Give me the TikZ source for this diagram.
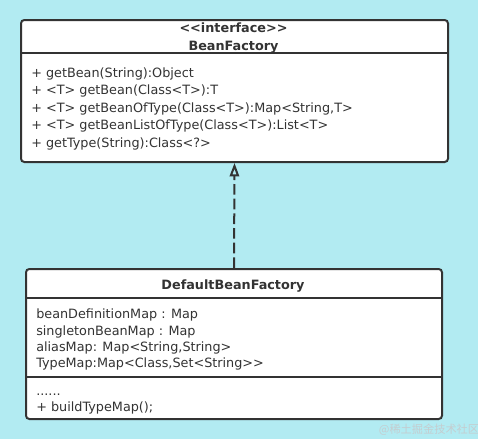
\documentclass[tikz,border=0pt]{standalone}
\usepackage{fontspec}
\setmainfont{DejaVu Sans}
\newfontfamily\cjkfont{Noto Sans CJK SC}
\usetikzlibrary{arrows.meta,positioning,calc}
\definecolor{SkyCyan}{HTML}{B2EBF2}
\definecolor{InkGray}{HTML}{333333}
\definecolor{MarkGray}{HTML}{C4CDD0}

\begin{document}
\begin{tikzpicture}[
  x=0.75pt, y=-0.75pt,
  classbox/.style={draw=InkGray, fill=white, line width=1.5pt, rounded corners=2.5pt,
    inner sep=0pt, anchor=north west},
  divider/.style={draw=InkGray, line width=1.5pt},
  headtext/.style={anchor=base, inner sep=0pt, text=InkGray,
    font=\fontsize{9.6}{12}\selectfont\bfseries},
  member/.style={anchor=base west, inner sep=0pt, text=InkGray,
    font=\fontsize{9.6}{12}\selectfont},
  wmark/.style={inner sep=0pt, text=MarkGray, font=\cjkfont\fontsize{8.4}{10}\selectfont},
  realize/.style={-{Triangle[open, length=10pt, width=7pt]}, line width=1.5pt,
    dash pattern=on 8pt off 3pt, draw=InkGray}
]
\fill[SkyCyan] (0,0) rectangle (478,439);
\useasboundingbox (0,0) rectangle (478,439);

% interface box
\node[classbox, minimum width=320.25pt, minimum height=106.5pt] (iface) at (20,19) {};
\draw[divider] (iface.west |- 0,53) -- (iface.east |- 0,53);
\node[headtext] (stereo) at (233.5,32) {<{}<interface>{}>};
\node[headtext] (ifname) at (233.5,50) {BeanFactory};
\node[member] (op1) at (31,77) {+ getBean(String):Object};
\node[member] (op2) at (31,94.5) {+ <T> getBean(Class<T>):T};
\node[member] (op3) at (31,112) {+ <T> getBeanOfType(Class<T>):Map<String,T>};
\node[member] (op4) at (31,129.5) {+ <T> getBeanListOfType(Class<T>):List<T>};
\node[member] (op5) at (31,147) {+ getType(String):Class<?>};

% implementation box
\node[classbox, minimum width=312pt, minimum height=112.5pt] (impl) at (25,268) {};
\draw[divider] (impl.west |- 0,298) -- (impl.east |- 0,298);
\draw[divider] (impl.west |- 0,377) -- (impl.east |- 0,377);
\node[headtext] (implname) at (233,289) {DefaultBeanFactory};
\node[member] (at1) at (36,318.5) {beanDefinitionMap : Map};
\node[member] (at2) at (36,335) {singletonBeanMap : Map};
\node[member] (at3) at (36,351) {aliasMap: Map<String,String>};
\node[member] (at4) at (36,367.5) {TypeMap:Map<Class,Set<String>{}>};
\node[member] (mo1) at (36,395) {......};
\node[member] (mo2) at (36,411) {+ buildTypeMap();};

\draw[realize] (impl.north) -- (iface.south);

\node[wmark] (mark) at (429,430) {@稀土掘金技术社区};
\end{tikzpicture}
\end{document}
